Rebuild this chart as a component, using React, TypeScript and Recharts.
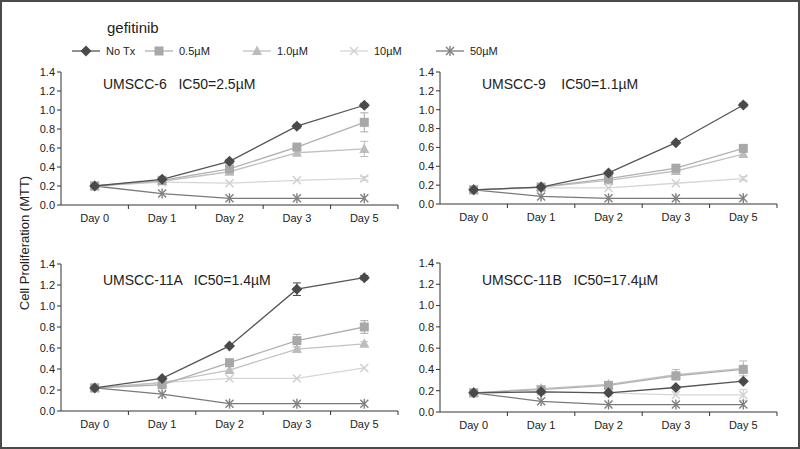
import { LineChart, Line, XAxis, YAxis, ErrorBar } from 'recharts';

const days = ['Day 0', 'Day 1', 'Day 2', 'Day 3', 'Day 5'];
const yTicks = [0, 0.2, 0.4, 0.6, 0.8, 1.0, 1.2, 1.4];

// UMSCC-6
const u6NoTx = [0.2, 0.27, 0.46, 0.83, 1.05];
const u6Half = [0.2, 0.26, 0.38, 0.61, 0.87];
const u6One = [0.2, 0.25, 0.35, 0.55, 0.59];
const u6Ten = [0.2, 0.24, 0.23, 0.26, 0.28];
const u6Fifty = [0.2, 0.12, 0.07, 0.07, 0.07];
const u6Err = { noTx: [0, 0, 0.02, 0.02, 0.02], half: [0, 0, 0, 0.02, 0.1], one: [0, 0, 0, 0.02, 0.08], ten: [0, 0, 0, 0, 0.02] };

// UMSCC-9
const u9NoTx = [0.15, 0.18, 0.33, 0.65, 1.05];
const u9Half = [0.15, 0.18, 0.27, 0.38, 0.59];
const u9One = [0.15, 0.18, 0.25, 0.35, 0.53];
const u9Ten = [0.15, 0.17, 0.17, 0.22, 0.27];
const u9Fifty = [0.15, 0.08, 0.06, 0.06, 0.06];
const u9Err = { noTx: [0, 0, 0, 0, 0.02], half: [0, 0, 0, 0, 0], one: [0, 0, 0, 0, 0], ten: [0, 0, 0, 0, 0.02] };

// UMSCC-11A
const u11aNoTx = [0.22, 0.31, 0.62, 1.16, 1.27];
const u11aHalf = [0.22, 0.25, 0.46, 0.67, 0.8];
const u11aOne = [0.22, 0.27, 0.39, 0.59, 0.64];
const u11aTen = [0.22, 0.27, 0.31, 0.31, 0.41];
const u11aFifty = [0.22, 0.16, 0.07, 0.07, 0.07];
const u11aErr = { noTx: [0, 0, 0, 0.06, 0.02], half: [0, 0, 0, 0.06, 0.06], one: [0, 0, 0, 0, 0.02], ten: [0, 0, 0, 0, 0] };

// UMSCC-11B
const u11bNoTx = [0.18, 0.19, 0.18, 0.23, 0.29];
const u11bHalf = [0.18, 0.21, 0.25, 0.34, 0.4];
const u11bOne = [0.18, 0.22, 0.26, 0.35, 0.41];
const u11bTen = [0.18, 0.19, 0.18, 0.16, 0.16];
const u11bFifty = [0.18, 0.1, 0.07, 0.07, 0.07];
const u11bErr = { noTx: [0, 0, 0, 0, 0], half: [0, 0.03, 0, 0, 0], one: [0, 0, 0.02, 0.05, 0.07], ten: [0, 0, 0, 0, 0.05] };

const FONT = '"Liberation Sans", Arial, sans-serif';
const BAND = 67.4;

const colors = {
  noTx: '#4a4a4a',
  half: '#a8a8a8',
  one: '#bcbcbc',
  ten: '#cfcfcf',
  fifty: '#808080',
};

type Shape = 'diamond' | 'square' | 'triangle' | 'x' | 'star';

function Marker({ shape, cx, cy, color }: { shape: Shape; cx: number; cy: number; color: string }) {
  if (shape === 'diamond') {
    return <polygon points={`${cx},${cy - 5.5} ${cx + 5.5},${cy} ${cx},${cy + 5.5} ${cx - 5.5},${cy}`} fill={color} />;
  }
  if (shape === 'square') {
    return <rect x={cx - 4.5} y={cy - 4.5} width={9} height={9} fill={color} />;
  }
  if (shape === 'triangle') {
    return <polygon points={`${cx},${cy - 5.5} ${cx + 5},${cy + 4} ${cx - 5},${cy + 4}`} fill={color} />;
  }
  const d = 4;
  return (
    <g stroke={color} strokeWidth={1.4}>
      <line x1={cx - d} y1={cy - d} x2={cx + d} y2={cy + d} />
      <line x1={cx - d} y1={cy + d} x2={cx + d} y2={cy - d} />
      {shape === 'star' && <line x1={cx} y1={cy - d - 1} x2={cx} y2={cy + d + 1} />}
    </g>
  );
}

const makeDot = (shape: Shape, color: string) => (p: any) => {
  if (p.cx == null || p.cy == null) return <g key={`e-${p.index}`} />;
  return (
    <g key={`d-${shape}-${p.index}`}>
      <Marker shape={shape} cx={p.cx} cy={p.cy} color={color} />
    </g>
  );
};

const DayTick = (p: any) => {
  const { x, y, payload } = p;
  return (
    <g>
      <line x1={x + BAND / 2} x2={x + BAND / 2} y1={y} y2={y + 4} stroke="#333" strokeWidth={1} />
      <text x={x} y={y + 17} textAnchor="middle" fontSize={11} fill="#222" fontFamily={FONT}>
        {payload.value}
      </text>
    </g>
  );
};

const series: { key: 'noTx' | 'half' | 'one' | 'ten' | 'fifty'; shape: Shape; line: string; label: string }[] = [
  { key: 'fifty', shape: 'star', line: '#7a7a7a', label: '50µM' },
  { key: 'ten', shape: 'x', line: '#d6d6d6', label: '10µM' },
  { key: 'one', shape: 'triangle', line: '#c2c2c2', label: '1.0µM' },
  { key: 'half', shape: 'square', line: '#b0b0b0', label: '0.5µM' },
  { key: 'noTx', shape: 'diamond', line: '#555555', label: 'No Tx' },
];

function buildRows(noTx: number[], half: number[], one: number[], ten: number[], fifty: number[], err: any) {
  return days.map((day, i) => ({
    day,
    noTx: noTx[i],
    half: half[i],
    one: one[i],
    ten: ten[i],
    fifty: fifty[i],
    noTxErr: err.noTx[i],
    halfErr: err.half[i],
    oneErr: err.one[i],
    tenErr: err.ten[i],
  }));
}

const panels = [
  { title: 'UMSCC-6   IC50=2.5µM', left: 10, top: 60, height: 170, titleY: 76, rows: buildRows(u6NoTx, u6Half, u6One, u6Ten, u6Fifty, u6Err) },
  { title: 'UMSCC-9    IC50=1.1µM', left: 389, top: 60, height: 169, titleY: 76, rows: buildRows(u9NoTx, u9Half, u9One, u9Ten, u9Fifty, u9Err) },
  { title: 'UMSCC-11A   IC50=1.4µM', left: 10, top: 252, height: 184, titleY: 272, rows: buildRows(u11aNoTx, u11aHalf, u11aOne, u11aTen, u11aFifty, u11aErr) },
  { title: 'UMSCC-11B   IC50=17.4µM', left: 389, top: 251, height: 186, titleY: 272, rows: buildRows(u11bNoTx, u11bHalf, u11bOne, u11bTen, u11bFifty, u11bErr) },
];

const legendLeft = [72, 145, 243, 340, 436];

function Panel({ rows, height }: { rows: any[]; height: number }) {
  return (
    <LineChart width={400} height={height} data={rows} margin={{ top: 12, right: 12, left: 0, bottom: 0 }}>
      <XAxis
        dataKey="day"
        tick={<DayTick />}
        tickLine={false}
        tickSize={0}
        tickMargin={0}
        height={25}
        interval={0}
        padding={{ left: BAND / 2, right: BAND / 2 }}
        axisLine={{ stroke: '#333', strokeWidth: 1 }}
      />
      <YAxis
        domain={[0, 1.4]}
        ticks={yTicks}
        width={51}
        tickSize={4}
        tickMargin={2}
        interval={0}
        tickFormatter={(v: number) => v.toFixed(1)}
        tick={{ fontSize: 11, fill: '#222', fontFamily: FONT }}
        tickLine={{ stroke: '#333' }}
        axisLine={{ stroke: '#333', strokeWidth: 1 }}
      />
      {series.map((s) => (
        <Line
          key={s.key}
          dataKey={s.key}
          type="linear"
          stroke={s.line}
          strokeWidth={1.3}
          dot={makeDot(s.shape, colors[s.key])}
          activeDot={false}
          isAnimationActive={false}
        >
          {s.key !== 'fifty' && (
            <ErrorBar dataKey={`${s.key}Err`} width={4} strokeWidth={1} stroke={colors[s.key]} direction="y" />
          )}
        </Line>
      ))}
    </LineChart>
  );
}

export default function App() {
  return (
    <div
      style={{
        position: 'absolute',
        left: 0,
        top: 0,
        width: 800,
        height: 449,
        boxSizing: 'border-box',
        border: '2px solid #4a4a4a',
        background: '#fff',
        fontFamily: FONT,
        color: '#222',
        overflow: 'hidden',
      }}
    >
      <div style={{ position: 'absolute', left: 105, top: 17, fontSize: 15 }}>gefitinib</div>
      {[...series].reverse().map((s, i) => (
        <div key={s.key} style={{ position: 'absolute', left: legendLeft[i] - 2, top: 43 - 2, height: 16, display: 'flex', alignItems: 'center', fontSize: 11 }}>
          <svg width={30} height={16}>
            <line x1={0} x2={28} y1={8} y2={8} stroke={s.line} strokeWidth={1.3} />
            <Marker shape={s.shape} cx={14} cy={8} color={colors[s.key]} />
          </svg>
          <span style={{ marginLeft: 4 }}>{s.label}</span>
        </div>
      ))}
      <div
        style={{
          position: 'absolute',
          left: 24 - 2,
          top: 243 - 2,
          transform: 'translate(-50%, -50%) rotate(-90deg)',
          fontSize: 13,
          whiteSpace: 'nowrap',
        }}
      >
        Cell Proliferation (MTT)
      </div>
      {panels.map((p) => (
        <div key={p.title} style={{ position: 'absolute', left: p.left - 2, top: p.top - 2, width: 400, height: p.height }}>
          <Panel rows={p.rows} height={p.height} />
          <div style={{ position: 'absolute', left: 93, top: p.titleY - p.top, fontSize: 14, whiteSpace: 'pre' }}>{p.title}</div>
        </div>
      ))}
    </div>
  );
}
